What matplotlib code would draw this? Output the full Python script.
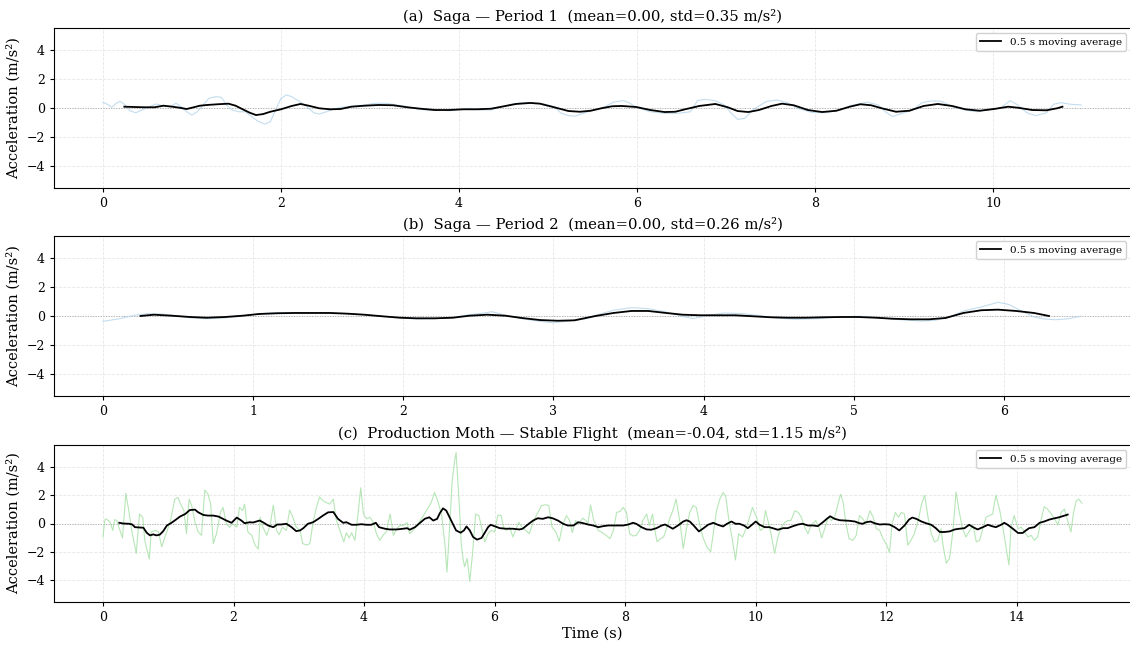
import matplotlib
matplotlib.use("Agg")
import matplotlib.pyplot as plt

plt.rcParams['font.family'] = ['DejaVu Serif']

# ---------------- Panel (a): Saga - Period 1 ----------------
a_raw_t = [0.00, 0.05, 0.10, 0.15, 0.19, 0.25, 0.30, 0.37, 0.44, 0.52, 0.60, 0.68, 0.76, 0.82, 0.88,
           0.94, 1.00, 1.06, 1.11, 1.19, 1.27, 1.33, 1.39, 1.45, 1.53, 1.60, 1.67, 1.74, 1.82, 1.88,
           1.94, 2.00, 2.06, 2.12, 2.18, 2.24, 2.31, 2.37, 2.43, 2.51, 2.59, 2.67, 2.75, 2.83, 2.94,
           3.06, 3.18, 3.30, 3.42, 3.54, 3.65, 3.77, 3.89, 4.01, 4.13, 4.24, 4.36, 4.48, 4.60, 4.72,
           4.83, 4.95, 5.07, 5.15, 5.23, 5.31, 5.40, 5.52, 5.64, 5.74, 5.85, 5.91, 5.99, 6.15, 6.31,
           6.46, 6.60, 6.68, 6.76, 6.88, 6.98, 7.06, 7.13, 7.21, 7.31, 7.45, 7.57, 7.69, 7.80, 7.96,
           8.12, 8.28, 8.43, 8.59, 8.71, 8.79, 8.87, 8.98, 9.10, 9.20, 9.30, 9.42, 9.54, 9.69, 9.81,
           9.93, 10.09, 10.19, 10.28, 10.38, 10.48, 10.60, 10.68, 10.76, 10.87, 10.99]
a_raw_v = [0.40, 0.26, 0.05, 0.33, 0.47, 0.21, -0.19, -0.33, -0.14, 0.09, 0.28, 0.14, 0.09, 0.33, 0.09,
           -0.26, -0.49, -0.26, 0.09, 0.67, 0.79, 0.74, 0.21, -0.14, -0.26, -0.26, -0.60, -0.91, -1.12, -0.95,
           -0.14, 0.67, 0.91, 0.79, 0.56, 0.33, -0.02, -0.33, -0.42, -0.26, -0.09, 0.05, 0.09, 0.14, 0.21,
           0.33, 0.33, 0.21, 0.09, -0.09, -0.14, -0.14, -0.19, -0.09, -0.02, -0.14, -0.14, 0.09, 0.28, 0.37,
           0.37, 0.28, 0.09, -0.37, -0.53, -0.56, -0.35, -0.14, 0.09, 0.42, 0.51, 0.37, 0.05, -0.26, -0.37,
           -0.37, -0.26, 0.51, 0.60, 0.51, 0.21, -0.37, -0.79, -0.72, -0.09, 0.44, 0.56, 0.37, -0.02, -0.30,
           -0.33, -0.14, 0.21, 0.40, 0.21, -0.26, -0.60, -0.37, -0.14, 0.37, 0.49, 0.47, 0.09, -0.14, -0.26,
           -0.14, 0.02, 0.51, 0.21, -0.33, -0.53, -0.33, 0.26, 0.37, 0.26, 0.21]
a_ma_t = [0.24, 0.35, 0.46, 0.58, 0.68, 0.78, 0.86, 0.94, 1.02, 1.09, 1.17, 1.29, 1.41, 1.49, 1.57,
          1.65, 1.72, 1.80, 1.88, 2.00, 2.12, 2.22, 2.31, 2.43, 2.55, 2.67, 2.79, 2.94, 3.10, 3.26,
          3.42, 3.57, 3.73, 3.89, 4.05, 4.20, 4.36, 4.48, 4.64, 4.80, 4.91, 5.07, 5.23, 5.36, 5.48,
          5.60, 5.72, 5.83, 5.99, 6.15, 6.31, 6.43, 6.54, 6.70, 6.88, 7.02, 7.13, 7.25, 7.37, 7.51,
          7.63, 7.76, 7.92, 8.08, 8.24, 8.39, 8.51, 8.63, 8.75, 8.91, 9.06, 9.22, 9.38, 9.54, 9.69,
          9.85, 10.01, 10.17, 10.28, 10.44, 10.60, 10.72, 10.78]
a_ma_v = [0.09, 0.07, 0.05, 0.05, 0.16, 0.09, 0.02, -0.07, 0.05, 0.16, 0.21, 0.26, 0.30, 0.16, -0.09,
          -0.33, -0.49, -0.42, -0.26, -0.09, 0.14, 0.28, 0.16, -0.02, -0.09, -0.07, 0.09, 0.16, 0.21, 0.19,
          0.05, -0.05, -0.14, -0.14, -0.09, -0.09, -0.05, 0.09, 0.28, 0.35, 0.30, 0.05, -0.21, -0.26, -0.19,
          -0.02, 0.12, 0.14, 0.07, -0.14, -0.28, -0.26, -0.09, 0.14, 0.28, 0.05, -0.21, -0.28, -0.14, 0.14,
          0.30, 0.19, -0.14, -0.28, -0.19, 0.09, 0.26, 0.19, -0.02, -0.26, -0.19, 0.14, 0.28, 0.14, -0.09,
          -0.19, -0.07, 0.09, 0.02, -0.14, -0.16, -0.02, 0.09]

# ---------------- Panel (b): Saga - Period 2 ----------------
b_raw_t = [0.00, 0.11, 0.21, 0.30, 0.39, 0.48, 0.58, 0.69, 0.81, 0.93, 1.04, 1.16, 1.28, 1.51, 1.63,
           1.74, 1.86, 1.98, 2.09, 2.21, 2.33, 2.44, 2.54, 2.59, 2.68, 2.79, 2.91, 3.00, 3.10, 3.21,
           3.28, 3.40, 3.52, 3.63, 3.75, 3.86, 3.93, 4.03, 4.14, 4.26, 4.38, 4.49, 4.61, 4.75, 4.89,
           5.03, 5.17, 5.31, 5.45, 5.54, 5.64, 5.73, 5.85, 5.96, 6.03, 6.10, 6.20, 6.27, 6.34, 6.43,
           6.51]
b_raw_v = [-0.37, -0.19, 0.05, 0.16, 0.14, 0.02, -0.12, -0.19, -0.14, 0.00, 0.16, 0.23, 0.23, 0.23, 0.16,
           0.09, -0.02, -0.14, -0.21, -0.19, -0.09, 0.09, 0.21, 0.30, 0.05, -0.19, -0.37, -0.47, -0.35, -0.21,
           0.05, 0.40, 0.58, 0.51, 0.28, -0.02, -0.19, 0.05, 0.21, 0.16, 0.02, -0.14, -0.23, -0.19, -0.07,
           -0.02, -0.12, -0.26, -0.35, -0.30, -0.07, 0.35, 0.63, 0.95, 0.81, 0.44, -0.07, -0.21, -0.26, -0.19,
           -0.02]
b_ma_t = [0.25, 0.34, 0.46, 0.58, 0.69, 0.81, 0.93, 1.04, 1.16, 1.28, 1.39, 1.51, 1.63, 1.74, 1.86,
          1.98, 2.09, 2.21, 2.33, 2.44, 2.56, 2.68, 2.79, 2.91, 3.03, 3.14, 3.28, 3.40, 3.52, 3.63,
          3.75, 3.86, 3.98, 4.10, 4.21, 4.33, 4.45, 4.56, 4.68, 4.80, 4.91, 5.03, 5.15, 5.26, 5.38,
          5.50, 5.61, 5.73, 5.85, 5.96, 6.08, 6.20, 6.30]
b_ma_v = [0.00, 0.09, 0.02, -0.07, -0.12, -0.07, 0.02, 0.14, 0.19, 0.21, 0.21, 0.21, 0.16, 0.09, -0.02,
          -0.12, -0.16, -0.16, -0.12, 0.02, 0.09, 0.02, -0.14, -0.28, -0.33, -0.30, 0.00, 0.21, 0.35, 0.35,
          0.21, 0.09, 0.05, 0.05, 0.05, -0.02, -0.09, -0.12, -0.12, -0.09, -0.07, -0.07, -0.12, -0.19, -0.23,
          -0.23, -0.14, 0.21, 0.40, 0.44, 0.35, 0.21, 0.00]

# ---------------- Panel (c): Production Moth - Stable Flight ----------------
c_raw_t = [0.00, 0.03, 0.05, 0.11, 0.15, 0.18, 0.21, 0.25, 0.30, 0.35, 0.40, 0.44, 0.51, 0.56, 0.61,
           0.64, 0.71, 0.74, 0.80, 0.85, 0.90, 0.95, 1.03, 1.10, 1.15, 1.19, 1.24, 1.28, 1.32, 1.36,
           1.41, 1.46, 1.51, 1.56, 1.61, 1.65, 1.69, 1.74, 1.80, 1.84, 1.89, 1.94, 1.99, 2.05, 2.09,
           2.14, 2.17, 2.22, 2.28, 2.33, 2.38, 2.41, 2.45, 2.51, 2.56, 2.61, 2.66, 2.70, 2.75, 2.81,
           2.86, 2.91, 2.96, 3.02, 3.06, 3.12, 3.17, 3.22, 3.27, 3.32, 3.37, 3.42, 3.47, 3.53, 3.57,
           3.63, 3.69, 3.73, 3.77, 3.81, 3.86, 3.91, 3.95, 3.99, 4.04, 4.09, 4.14, 4.19, 4.24, 4.29,
           4.34, 4.40, 4.45, 4.50, 4.55, 4.60, 4.66, 4.70, 4.75, 4.81, 4.86, 4.91, 4.97, 5.03, 5.08,
           5.13, 5.19, 5.24, 5.27, 5.31, 5.35, 5.39, 5.41, 5.46, 5.49, 5.52, 5.54, 5.58, 5.62, 5.66,
           5.71, 5.76, 5.80, 5.85, 5.90, 5.95, 6.00, 6.05, 6.10, 6.14, 6.18, 6.23, 6.28, 6.33, 6.37,
           6.42, 6.48, 6.53, 6.59, 6.65, 6.72, 6.78, 6.83, 6.88, 6.94, 6.99, 7.04, 7.10, 7.15, 7.19,
           7.24, 7.29, 7.35, 7.40, 7.43, 7.47, 7.52, 7.59, 7.65, 7.71, 7.77, 7.82, 7.87, 7.92, 7.97,
           8.02, 8.07, 8.12, 8.17, 8.22, 8.27, 8.33, 8.37, 8.42, 8.45, 8.49, 8.54, 8.59, 8.64, 8.69,
           8.73, 8.78, 8.84, 8.89, 8.94, 8.99, 9.04, 9.09, 9.14, 9.19, 9.25, 9.31, 9.36, 9.40, 9.45,
           9.50, 9.54, 9.59, 9.64, 9.69, 9.74, 9.80, 9.85, 9.90, 9.95, 9.98, 10.02, 10.07, 10.11, 10.15,
           10.20, 10.24, 10.29, 10.34, 10.39, 10.44, 10.49, 10.54, 10.60, 10.65, 10.70, 10.75, 10.80, 10.85, 10.92,
           10.97, 11.01, 11.06, 11.11, 11.16, 11.21, 11.26, 11.30, 11.34, 11.38, 11.43, 11.49, 11.54, 11.59, 11.64,
           11.69, 11.75, 11.80, 11.85, 11.90, 11.95, 12.01, 12.05, 12.09, 12.14, 12.19, 12.23, 12.28, 12.33, 12.38,
           12.43, 12.49, 12.54, 12.59, 12.64, 12.69, 12.74, 12.79, 12.84, 12.87, 12.92, 12.97, 13.02, 13.07, 13.12,
           13.17, 13.22, 13.28, 13.33, 13.38, 13.43, 13.48, 13.53, 13.58, 13.63, 13.68, 13.74, 13.79, 13.84, 13.88,
           13.91, 13.96, 14.02, 14.07, 14.12, 14.17, 14.22, 14.27, 14.32, 14.37, 14.42, 14.47, 14.53, 14.58, 14.63,
           14.68, 14.73, 14.78, 14.83, 14.87, 14.91, 14.95, 15.00]
c_raw_v = [-0.95, 0.28, 0.33, 0.09, -0.49, 0.28, 0.21, -0.33, -1.02, 2.14, 0.79, -0.49, -2.12, 0.67, 0.44,
           -1.19, -2.51, -0.60, -0.49, -0.60, -1.65, -0.95, 0.09, 1.72, 1.84, 1.37, 0.91, -0.72, 1.72, 1.26,
           0.09, -0.60, -0.84, 2.37, 2.07, 1.37, -1.42, -0.72, 0.79, 1.14, -0.02, -0.26, -0.02, -0.26, 1.14,
           0.91, 1.37, -0.60, -0.84, -1.53, -1.81, 0.44, -0.26, -0.84, -0.14, 1.30, -0.49, -0.79, -0.26, -0.49,
           0.95, 0.44, -0.26, -0.49, -1.42, -1.53, -1.42, 0.09, 1.14, 1.88, 1.60, 1.49, 1.37, 1.72, 0.33,
           -0.49, -1.30, -0.65, -1.02, -0.65, -1.19, 0.79, 2.53, 0.67, 0.33, 0.44, 0.09, -0.72, -1.19, -0.84,
           -0.60, 0.67, -0.84, -0.37, -0.14, -0.14, 0.05, -0.72, -0.49, -0.14, 0.21, 0.56, 1.02, 1.49, 2.19,
           1.60, 0.56, -1.53, -3.44, -0.37, 3.00, 4.51, 5.02, 1.26, -1.53, -2.58, -3.05, -2.47, -4.09, -2.23,
           0.67, 0.56, -0.26, -1.30, -0.72, -0.49, -0.60, 0.60, 0.56, -0.37, -0.49, -0.26, -0.95, -0.37, 0.09,
           -0.26, -0.49, -0.72, 0.09, 0.67, 1.26, 1.33, 1.26, -0.26, -0.60, -1.26, -0.14, 0.56, 0.21, -0.65,
           0.21, -0.02, 0.37, 0.21, -0.02, 1.30, 0.21, -0.49, -0.65, -0.84, -1.07, -0.49, 0.79, 0.84, 1.14,
           0.79, -0.72, -0.88, -0.84, -0.49, 0.21, 0.67, -0.14, 0.67, -0.37, -1.30, -1.07, -0.95, -0.26, 0.44,
           0.91, 1.72, 0.09, -1.77, -0.37, 0.79, 1.26, 1.14, -0.02, -0.95, -1.65, -2.00, -0.37, 0.91, 1.72,
           2.19, 1.95, 0.21, -1.07, -2.58, -0.72, -0.95, -0.37, 0.33, 1.14, 0.79, 0.37, -0.49, -0.37, 0.91,
           -0.02, -0.84, -2.12, -0.95, -0.26, 0.05, 0.21, 0.21, 0.91, 0.79, 0.44, -0.26, -0.72, -0.14, 0.21,
           -0.26, -1.02, -0.33, 0.44, 0.21, 0.44, 1.37, 2.07, 1.49, 0.09, -1.07, -1.19, -0.84, 0.56, 0.33,
           -0.02, 0.91, 0.44, -0.37, -0.49, -1.07, -1.53, -2.07, -0.02, 0.79, 0.44, 0.79, 0.67, -1.53, -1.19,
           -0.72, 0.21, 1.37, 2.00, 0.44, -0.72, -1.30, -1.19, -0.37, -1.53, -2.81, -2.47, -0.60, 2.23, 0.79,
           -0.37, -0.95, -0.49, -0.14, -1.30, -1.19, -0.37, 0.44, 0.56, 0.67, 2.00, 0.91, -0.37, -1.77, -2.93,
           -0.37, 0.56, -0.37, -0.26, -0.60, -0.95, -0.84, -1.19, -0.95, 0.21, 1.19, 1.02, 0.67, 0.33, -0.09,
           0.79, 1.02, 0.21, -0.60, 0.79, 1.60, 1.72, 1.44]
c_ma_t = [0.25, 0.31, 0.40, 0.45, 0.49, 0.57, 0.62, 0.67, 0.72, 0.77, 0.82, 0.87, 0.92, 0.98, 1.05,
          1.12, 1.18, 1.26, 1.33, 1.41, 1.46, 1.54, 1.61, 1.69, 1.77, 1.82, 1.89, 1.97, 2.05, 2.12,
          2.17, 2.25, 2.30, 2.35, 2.40, 2.45, 2.53, 2.61, 2.67, 2.73, 2.81, 2.89, 2.96, 3.02, 3.07,
          3.14, 3.22, 3.30, 3.37, 3.45, 3.53, 3.60, 3.68, 3.73, 3.81, 3.88, 3.96, 4.04, 4.11, 4.18,
          4.23, 4.32, 4.39, 4.50, 4.60, 4.66, 4.70, 4.78, 4.85, 4.93, 5.00, 5.06, 5.12, 5.16, 5.21,
          5.26, 5.31, 5.36, 5.41, 5.48, 5.53, 5.57, 5.62, 5.67, 5.73, 5.80, 5.85, 5.90, 5.94, 6.00,
          6.08, 6.18, 6.28, 6.38, 6.43, 6.51, 6.59, 6.66, 6.74, 6.82, 6.89, 6.97, 7.05, 7.12, 7.21,
          7.28, 7.36, 7.43, 7.51, 7.59, 7.66, 7.74, 7.82, 7.89, 7.97, 8.05, 8.12, 8.17, 8.25, 8.33,
          8.40, 8.48, 8.56, 8.61, 8.67, 8.73, 8.81, 8.89, 8.94, 8.99, 9.05, 9.13, 9.19, 9.27, 9.35,
          9.42, 9.50, 9.56, 9.63, 9.69, 9.75, 9.82, 9.88, 9.93, 10.00, 10.06, 10.14, 10.21, 10.29, 10.34,
          10.42, 10.49, 10.57, 10.65, 10.72, 10.80, 10.88, 10.95, 11.03, 11.09, 11.14, 11.21, 11.29, 11.36, 11.44,
          11.52, 11.59, 11.64, 11.69, 11.76, 11.82, 11.90, 11.97, 12.05, 12.13, 12.20, 12.28, 12.35, 12.40, 12.46,
          12.54, 12.61, 12.69, 12.76, 12.82, 12.89, 12.97, 13.05, 13.12, 13.20, 13.27, 13.33, 13.40, 13.48, 13.56,
          13.62, 13.68, 13.76, 13.81, 13.86, 13.94, 14.02, 14.09, 14.14, 14.19, 14.27, 14.35, 14.42, 14.50, 14.58,
          14.65, 14.73, 14.78]
c_ma_v = [0.05, 0.00, -0.02, -0.07, -0.26, -0.28, -0.30, -0.65, -0.84, -0.77, -0.84, -0.79, -0.56, -0.14, 0.05,
          0.28, 0.49, 0.67, 0.95, 0.98, 0.79, 0.60, 0.56, 0.56, 0.49, 0.37, 0.21, 0.05, 0.42, 0.21,
          0.02, 0.09, 0.07, 0.14, 0.21, 0.09, -0.14, -0.26, -0.07, -0.07, -0.02, -0.26, -0.54, -0.49, -0.33,
          -0.02, 0.09, 0.33, 0.56, 0.79, 0.81, 0.33, 0.05, 0.09, -0.09, -0.09, -0.05, -0.09, -0.09, 0.05,
          -0.26, -0.37, -0.42, -0.42, -0.37, -0.33, -0.44, -0.26, 0.02, 0.33, 0.44, 0.21, 0.33, 0.72, 1.07,
          0.91, 0.44, -0.02, -0.49, -0.65, -0.49, -0.21, -0.49, -0.95, -1.14, -1.02, -0.65, -0.26, -0.09, -0.19,
          -0.33, -0.37, -0.37, -0.42, -0.37, -0.07, 0.21, 0.37, 0.33, 0.44, 0.37, 0.21, -0.02, -0.14, -0.14,
          0.09, 0.02, -0.07, -0.14, -0.26, -0.19, -0.14, -0.14, -0.14, -0.14, -0.07, 0.05, -0.02, -0.26, -0.42,
          -0.44, -0.33, -0.14, -0.07, -0.21, -0.37, -0.14, 0.14, 0.23, 0.14, -0.14, -0.56, -0.37, -0.09, 0.05,
          -0.09, -0.21, -0.02, 0.14, -0.02, -0.02, -0.14, -0.33, -0.14, 0.14, -0.09, -0.26, -0.26, -0.37, -0.44,
          -0.33, -0.33, -0.19, -0.07, -0.02, -0.14, -0.14, -0.19, 0.09, 0.33, 0.51, 0.33, 0.23, 0.21, 0.19,
          0.14, 0.02, -0.02, 0.09, 0.14, 0.02, -0.07, -0.05, -0.07, -0.26, -0.49, -0.14, 0.28, 0.42, 0.33,
          0.14, 0.02, -0.09, -0.33, -0.60, -0.60, -0.56, -0.42, -0.37, -0.33, -0.09, -0.26, -0.42, -0.26, -0.09,
          -0.19, -0.26, -0.09, 0.05, -0.09, -0.37, -0.67, -0.67, -0.49, -0.33, -0.26, 0.05, 0.14, 0.28, 0.37,
          0.44, 0.56, 0.63]

titles = ["(a)  Saga \u2014 Period 1  (mean=0.00, std=0.35 m/s\u00b2)",
          "(b)  Saga \u2014 Period 2  (mean=0.00, std=0.26 m/s\u00b2)",
          "(c)  Production Moth \u2014 Stable Flight  (mean=-0.04, std=1.15 m/s\u00b2)"]
raw_colors = ["#a9cfe8", "#a9cfe8", "#98dc98"]
xtick_sets = [[0, 2, 4, 6, 8, 10], [0, 1, 2, 3, 4, 5, 6], [0, 2, 4, 6, 8, 10, 12, 14]]
durations = [11.0, 6.52, 15.0]

panels = [(a_raw_t, a_raw_v, a_ma_t, a_ma_v),
          (b_raw_t, b_raw_v, b_ma_t, b_ma_v),
          (c_raw_t, c_raw_v, c_ma_t, c_ma_v)]

fig = plt.figure(figsize=(11.3, 6.45), dpi=100)
W, H = 1130, 645
boxes = [(28, 188), (236, 396), (445, 602)]
left_px, right_px = 54, 1131

for i, ((rt, rv, mt, mv), (top, bot)) in enumerate(zip(panels, boxes)):
    ax = fig.add_axes([left_px / W, 1 - bot / H, (right_px - left_px) / W, (bot - top) / H])
    ax.plot(rt, rv, color=raw_colors[i], lw=0.8, alpha=0.7, zorder=2)
    ax.plot(mt, mv, color="black", lw=1.3, label="0.5 s moving average", zorder=3)
    ax.axhline(0, color="#aaaaaa", lw=0.7, ls=":", zorder=1)
    D = durations[i]
    ax.set_xlim(-0.05 * D, 1.05 * D)
    ax.set_ylim(-5.55, 5.55)
    ax.set_yticks([-4, -2, 0, 2, 4])
    ax.set_xticks(xtick_sets[i])
    ax.grid(True, ls="--", lw=0.6, color="#e0e0e0", alpha=0.8)
    ax.set_axisbelow(True)
    ax.tick_params(labelsize=9, length=3)
    ax.set_ylabel("Acceleration (m/s\u00b2)", fontsize=10.5)
    ax.set_title(titles[i], fontsize=10.7, pad=5)
    ax.spines['right'].set_visible(False)
    ax.legend(loc="upper right", fontsize=7.5, frameon=True, framealpha=0.9,
              handlelength=2.0, borderpad=0.4, edgecolor="#cccccc", fancybox=True)
    if i == 2:
        ax.set_xlabel("Time (s)", fontsize=10.5, labelpad=2)

fig.savefig("out.png", dpi=100)
